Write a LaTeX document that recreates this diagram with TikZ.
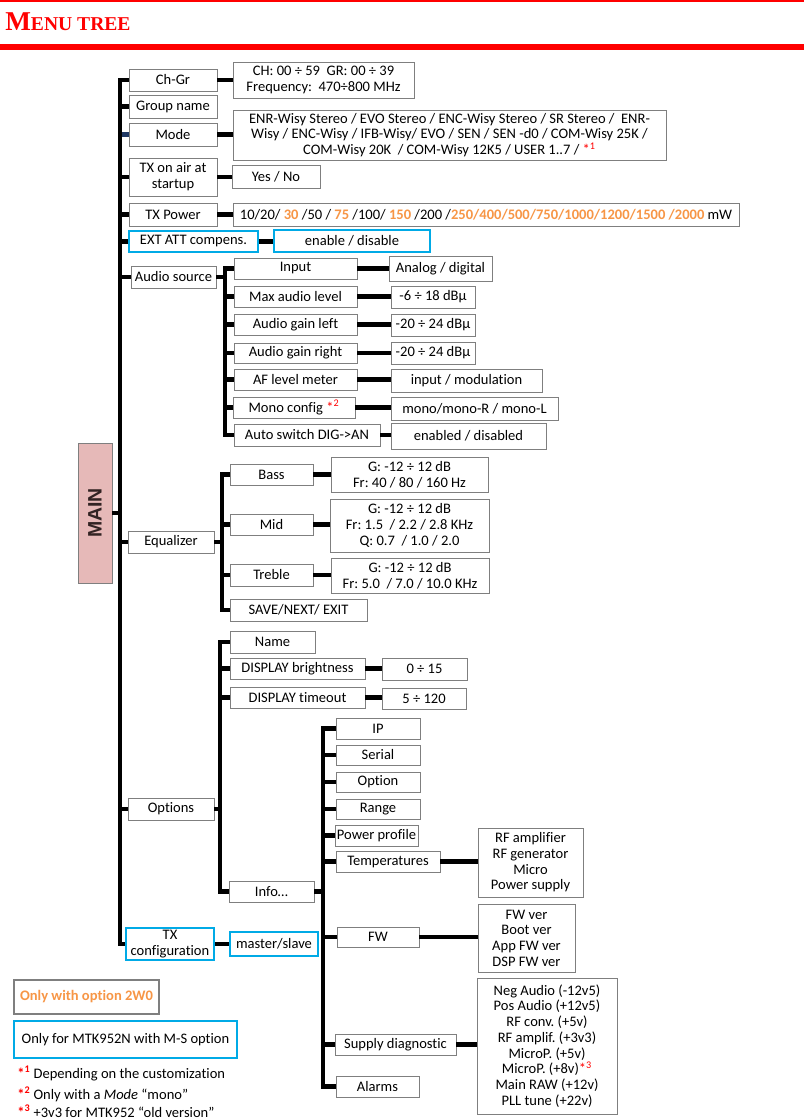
\documentclass[tikz,border=0pt]{standalone}
\usepackage{fontspec}
\setmainfont{Carlito}[Ligatures={NoCommon,TeX}]
\newfontfamily\titlefnt{Liberation Serif}
\newfontfamily\sansfnt{Liberation Sans}
\usetikzlibrary{shadows}
\definecolor{bxgray}{RGB}{127,127,127}
\definecolor{bxblue}{RGB}{0,170,230}
\definecolor{orng}{RGB}{247,150,70}
\definecolor{pinkf}{RGB}{230,185,184}
\definecolor{navyc}{RGB}{31,56,100}
\newcommand\bx[7][box]{\node[#1,minimum width={(#4-#2)*0.75pt},minimum height={(#5-#3)*0.75pt}] (#6) at ({(#2+#4)/2},{(#3+#5)/2}) {#7};}
\newcommand\fnmk[1]{\textcolor{red}{*\textsuperscript{#1}}}
\newcommand\fnmkb[1]{\textcolor{red}{\bfseries*\textsuperscript{#1}}}
\newcommand\og[1]{\textcolor{orng}{\bfseries #1}}
\frenchspacing
\begin{document}
\begin{tikzpicture}[x=0.75pt,y=-0.75pt,
  plain/.style={draw=bxgray, line width=0.6pt, fill=white, inner sep=0pt, align=center, font=\fontsize{10.9}{11.8}\selectfont},
  box/.style={plain, drop shadow={shadow xshift=1.1pt, shadow yshift=-1.1pt, opacity=0.3}},
  bluebox/.style={draw=bxblue, line width=1.3pt},
  conn/.style={line width=3.3pt, black},
  fnote/.style={anchor=base west, inner sep=0pt, font=\fontsize{10.9}{12}\selectfont}]
\useasboundingbox (0,0) rectangle (804,1119);
% header
\fill[red] (0,0) rectangle (804,2);
\fill[red] (0,44.5) rectangle (804,50.5);
\node[anchor=base west, inner sep=0pt, text=red] (title) at (5,30.5) {\titlefnt\bfseries\fontsize{20.4}{20}\selectfont M\fontsize{14.7}{15}\selectfont ENU TREE};
% main
\node[draw=bxgray, line width=0.6pt, fill=pinkf, minimum width=34*0.75pt, minimum height=140*0.75pt, inner sep=0pt, drop shadow={shadow xshift=1.1pt, shadow yshift=-1.1pt, opacity=0.3}] (main) at (95,513) {};
\node[rotate=90, inner sep=0pt, font=\sansfnt\bfseries\fontsize{14.6}{15}\selectfont, text={rgb,255:red,50;green,35;blue,35}] (maintext) at (main.center) {MAIN};
\coordinate (trunk) at (120,0);
\coordinate (av) at (225,0);
\coordinate (ev) at (222,0);
\coordinate (ov) at (220,0);
\coordinate (iv) at (323,0);
% level 1
\bx{129}{69}{217}{91}{chgr}{Ch-Gr}
\bx{129}{95}{217}{118}{grp}{Group name}
\bx{129}{123}{217}{146}{mode}{Mode}
\bx{129}{158}{217}{196}{onair}{TX on air at\\startup}
\bx{129}{203}{217}{226}{txpow}{TX Power}
\bx[box,bluebox]{129}{231}{258}{252}{extatt}{EXT ATT compens.}
\bx{131}{266}{216}{288}{asrc}{Audio source}
\bx{128}{531}{214}{553}{eq}{Equalizer}
\bx{128}{798}{214}{820}{opt}{Options}
\bx[box,bluebox]{126}{928}{214}{960}{txconf}{TX\\configuration}
% top values
\bx{233}{62}{414}{98}{chv}{CH: 00 ÷ 59~~GR: 00 ÷ 39\\Frequency:~~470÷800 MHz}
\bx{233}{110}{666}{160}{modev}{ENR-Wisy Stereo / EVO Stereo / ENC-Wisy Stereo / SR Stereo /~ ENR-\\Wisy / ENC-Wisy / IFB-Wisy/ EVO / SEN / SEN -d0 / COM-Wisy 25K /\\COM-Wisy 20K~ / COM-Wisy 12K5 / USER 1..7 / \fnmk{1}}
\bx{232}{165}{320}{188}{yesno}{Yes / No}
\bx{233}{203}{739}{226}{txpv}{10/20/ \og{30} /50 / \og{75} /100/ \og{150} /200 /\og{250/400/500/750/1000/1200/1500 /2000} mW}
\bx[box,bluebox]{274}{230}{430}{252}{endis}{enable / disable}
% audio source
\bx{234}{258}{357}{279}{input}{Input}
\bx{234}{286}{357}{307}{maxal}{Max audio level}
\bx{234}{314}{357}{335}{agl}{Audio gain left}
\bx{234}{343}{357}{363}{agr}{Audio gain right}
\bx{234}{369}{357}{390}{afl}{AF level meter}
\bx{233}{397}{355}{418}{mono}{Mono config \fnmk{2}}
\bx{234}{424}{380}{446}{autosw}{Auto switch DIG->AN}
\bx{389}{256}{492}{281}{inputv}{Analog / digital}
\bx{391}{286}{475}{308}{maxalv}{-6 ÷ 18 dBµ}
\bx{391}{314}{475}{336}{aglv}{-20 ÷ 24 dBµ}
\bx{391}{342}{475}{364}{agrv}{-20 ÷ 24 dBµ}
\bx{391}{369}{542}{392}{aflv}{input / modulation}
\bx{391}{397}{558}{420}{monov}{mono/mono-R / mono-L}
\bx{391}{423}{546}{449}{autoswv}{enabled / disabled}
% equalizer
\bx{230}{464}{313}{485}{bass}{Bass}
\bx{230}{514}{313}{535}{mid}{Mid}
\bx{230}{564}{313}{586}{treble}{Treble}
\bx{230}{599}{367}{621}{save}{SAVE/NEXT/ EXIT}
\bx{331}{457}{488}{492}{bassv}{G: -12 ÷ 12 dB\\Fr: 40 / 80 / 160 Hz}
\bx{330}{499}{489}{552}{midv}{G: -12 ÷ 12 dB\\Fr: 1.5~ / 2.2 / 2.8 KHz\\Q: 0.7~ / 1.0 / 2.0}
\bx{331}{558}{489}{593}{treblev}{G: -12 ÷ 12 dB\\Fr: 5.0~ / 7.0 / 10.0 KHz}
% options
\bx{230}{631}{315}{653}{name}{Name}
\bx{230}{658}{365}{679}{dbright}{DISPLAY brightness}
\bx{230}{687}{365}{708}{dtime}{DISPLAY timeout}
\bx{229}{881}{314}{902}{info}{Info…}
\bx{382}{658}{467}{680}{dbrightv}{0 ÷ 15}
\bx{382}{688}{466}{709}{dtimev}{5 ÷ 120}
% info
\bx{336}{718}{420}{739}{ip}{IP}
\bx{336}{745}{420}{765}{serial}{Serial}
\bx{336}{772}{420}{792}{option}{Option}
\bx{336}{799}{420}{819}{range}{Range}
\bx{335}{825}{418}{846}{pprof}{Power profile}
\bx{336}{851}{440}{872}{temps}{Temperatures}
\bx{337}{927}{419}{947}{fw}{FW}
\bx{335}{1034}{456}{1055}{supply}{Supply diagnostic}
\bx{336}{1076}{419}{1097}{alarms}{Alarms}
\bx[box,bluebox]{230}{932}{318}{956}{ms}{master/slave}
\bx{478}{828}{583}{897}{tempsv}{RF amplifier\\RF generator\\Micro\\Power supply}
\bx{478}{904}{575}{972}{fwv}{FW ver\\Boot ver\\App FW ver\\DSP FW ver}
\bx{477}{978}{617}{1114}{supplyv}{Neg Audio (-12v5)\\Pos Audio (+12v5)\\RF conv. (+5v)\\RF amplif. (+3v3)\\MicroP. (+5v)\\MicroP. (+8v)\fnmk{3}\\Main RAW (+12v)\\PLL tune (+22v)}
% legend
\bx[plain,line width=0.8pt]{14}{980}{159}{1014}{leg1}{\og{Only with option 2W0}}
\bx[plain,draw=bxblue,line width=1.4pt]{14}{1021}{237}{1058}{leg2}{Only for MTK952N with M-S option}
\node[fnote] (fn1) at (17,1078) {\fnmkb{1} Depending on the customization};
\node[fnote] (fn2) at (17,1099) {\fnmkb{2} Only with a \textit{Mode} “mono”};
\node[fnote] (fn3) at (17,1117) {\fnmkb{3} +3v3 for MTK952 “old version”};
% connectors: trunk
\draw[conn] (chgr.west) -- (chgr.west -| trunk) -- (txconf.west -| trunk) -- (txconf.west);
\foreach \n in {grp,onair,txpow,extatt,asrc,eq,opt} \draw[conn] (\n.west) -- (\n.west -| trunk);
\draw[conn,navyc,shorten >=1.6pt] (mode.west) -- (mode.west -| trunk);
\draw[conn] (main.east) -- (main.east -| trunk);
\foreach \a/\b in {chgr/chv,mode/modev,onair/yesno,txpow/txpv,extatt/endis,txconf/ms}
  \draw[conn] (\a.east) -- (\a.east -| \b.west);
% audio
\draw[conn] (input.west) -- (input.west -| av) -- (autosw.west -| av) -- (autosw.west);
\foreach \n in {maxal,agl,agr,afl,mono} \draw[conn] (\n.west) -- (\n.west -| av);
\draw[conn] (asrc.east) -- (asrc.east -| av);
\foreach \a/\b in {input/inputv,maxal/maxalv,agl/aglv,agr/agrv,afl/aflv,mono/monov,autosw/autoswv}
  \draw[conn] (\a.east) -- (\a.east -| \b.west);
% equalizer
\draw[conn] (bass.west) -- (bass.west -| ev) -- (save.west -| ev) -- (save.west);
\foreach \n in {mid,treble} \draw[conn] (\n.west) -- (\n.west -| ev);
\draw[conn] (eq.east) -- (eq.east -| ev);
\foreach \a/\b in {bass/bassv,mid/midv,treble/treblev}
  \draw[conn] (\a.east) -- (\a.east -| \b.west);
% options
\draw[conn] (name.west) -- (name.west -| ov) -- (info.west -| ov) -- (info.west);
\foreach \n in {dbright,dtime} \draw[conn] (\n.west) -- (\n.west -| ov);
\draw[conn] (opt.east) -- (opt.east -| ov);
\foreach \a/\b in {dbright/dbrightv,dtime/dtimev}
  \draw[conn] (\a.east) -- (\a.east -| \b.west);
% info
\draw[conn] (ip.west) -- (ip.west -| iv) -- (alarms.west -| iv) -- (alarms.west);
\foreach \n in {serial,option,range,pprof,temps,fw,supply} \draw[conn] (\n.west) -- (\n.west -| iv);
\draw[conn] (info.east) -- (info.east -| iv);
\foreach \a/\b in {temps/tempsv,fw/fwv,supply/supplyv}
  \draw[conn] (\a.east) -- (\a.east -| \b.west);
\end{tikzpicture}
\end{document}
